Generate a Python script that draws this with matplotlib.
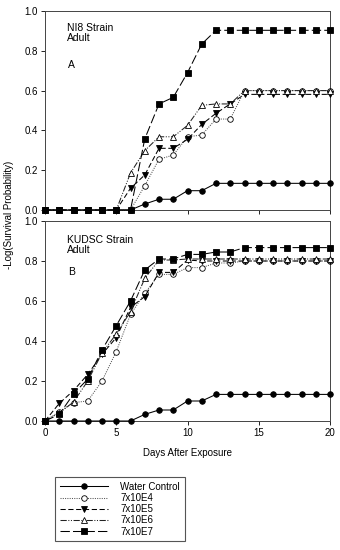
import matplotlib
matplotlib.use("Agg")
import matplotlib.pyplot as plt

plt.rcParams['font.family'] = ['Liberation Sans', 'DejaVu Sans']

days = list(range(21))
labels = ["Water Control", "7x10E4", "7x10E5", "7x10E6", "7x10E7"]

# Panel A: NI8 strain
a_water = [0, 0, 0, 0, 0, 0, 0, 0.03, 0.054, 0.054, 0.097, 0.097, 0.134, 0.134, 0.134, 0.134, 0.134, 0.134, 0.134, 0.134, 0.134]
a_e4 = [0, 0, 0, 0, 0, 0, 0, 0.122, 0.255, 0.276, 0.368, 0.377, 0.457, 0.457, 0.6, 0.6, 0.6, 0.6, 0.6, 0.6, 0.6]
a_e5 = [0, 0, 0, 0, 0, 0, 0.109, 0.176, 0.31, 0.31, 0.355, 0.43, 0.486, 0.533, 0.581, 0.581, 0.581, 0.581, 0.581, 0.581, 0.581]
a_e6 = [0, 0, 0, 0, 0, 0, 0.186, 0.298, 0.368, 0.368, 0.425, 0.526, 0.533, 0.533, 0.6, 0.6, 0.6, 0.6, 0.6, 0.6, 0.6]
a_e7 = [0, 0, 0, 0, 0, 0, 0, 0.357, 0.533, 0.566, 0.69, 0.834, 0.903, 0.903, 0.903, 0.903, 0.903, 0.903, 0.903, 0.903, 0.903]

# Panel B: KUDSC strain
b_water = [0, 0, 0, 0, 0, 0, 0, 0.033, 0.055, 0.055, 0.1, 0.1, 0.133, 0.133, 0.133, 0.133, 0.133, 0.133, 0.133, 0.133, 0.133]
b_e4 = [0, 0.047, 0.092, 0.1, 0.2, 0.347, 0.533, 0.638, 0.733, 0.733, 0.767, 0.767, 0.79, 0.79, 0.8, 0.8, 0.8, 0.8, 0.8, 0.8, 0.8]
b_e5 = [0, 0.088, 0.152, 0.233, 0.333, 0.417, 0.568, 0.622, 0.743, 0.743, 0.805, 0.8, 0.8, 0.8, 0.8, 0.8, 0.8, 0.8, 0.8, 0.8, 0.8]
b_e6 = [0, 0.04, 0.095, 0.2, 0.34, 0.435, 0.547, 0.713, 0.805, 0.805, 0.81, 0.81, 0.81, 0.81, 0.81, 0.81, 0.81, 0.81, 0.81, 0.81, 0.81]
b_e7 = [0, 0.033, 0.135, 0.21, 0.355, 0.477, 0.6, 0.755, 0.81, 0.81, 0.833, 0.833, 0.845, 0.845, 0.867, 0.867, 0.867, 0.867, 0.867, 0.867, 0.867]

styles = [
    dict(marker='o', mfc='black', ls='-', color='black'),
    dict(marker='o', mfc='white', ls=(0, (1, 1.2)), color='#555555'),
    dict(marker='v', mfc='black', ls=(0, (5, 2.5)), color='black'),
    dict(marker='^', mfc='white', ls=(0, (6, 1.5, 1, 1.5, 1, 1.5)), color='#222222'),
    dict(marker='s', mfc='black', ls=(0, (9, 3)), color='black'),
]

W, H = 340, 550
fig = plt.figure(figsize=(W / 100, H / 100), dpi=100)
axA = fig.add_axes([45 / W, 1 - 210 / H, 285 / W, 199 / H])
axB = fig.add_axes([45 / W, 1 - 421 / H, 285 / W, 200 / H])

handles = []
for ax, series in ((axA, [a_water, a_e4, a_e5, a_e6, a_e7]),
                   (axB, [b_water, b_e4, b_e5, b_e6, b_e7])):
    for vals, st, lab in zip(series, styles, labels):
        ln, = ax.plot(days, vals, marker=st['marker'], markerfacecolor=st['mfc'],
                      markeredgecolor='black', markeredgewidth=0.6, markersize=4.0,
                      linestyle=st['ls'], color=st['color'], linewidth=0.75,
                      clip_on=False, label=lab, zorder=3)
        if ax is axA:
            handles.append(ln)
    ax.set_xlim(0, 20)
    ax.set_ylim(0, 1.0)
    ax.set_xticks([0, 5, 10, 15, 20])
    ax.set_yticks([0, 0.2, 0.4, 0.6, 0.8, 1.0])
    ax.set_yticklabels(['0.0', '0.2', '0.4', '0.6', '0.8', '1.0'])
    ax.tick_params(labelsize=7, length=3, width=0.6, direction='out', pad=2)
    for sp in ax.spines.values():
        sp.set_linewidth(0.7)
        sp.set_color('#444444')

axA.set_xticklabels([])
axB.set_xlabel("Days After Exposure", fontsize=7, labelpad=7)

axA.text(1.55, 0.9, "NI8 Strain", fontsize=7.5, va='baseline')
axA.text(1.55, 0.85, "Adult", fontsize=7.5, va='baseline')
axA.text(1.6, 0.714, "A", fontsize=7.5, va='baseline')
axB.text(1.55, 0.888, "KUDSC Strain", fontsize=7.5, va='baseline')
axB.text(1.55, 0.838, "Adult", fontsize=7.5, va='baseline')
axB.text(1.6, 0.73, "B", fontsize=7.5, va='baseline')

fig.text(9 / W, 1 - 215 / H, "-Log(Survival Probability)", rotation=90,
         fontsize=7, ha='center', va='center')

leg = fig.legend(handles=handles, loc='upper left',
                 bbox_to_anchor=(55 / W, 1 - 477 / H), borderaxespad=0,
                 fontsize=7, handlelength=5.0, handletextpad=1.2,
                 labelspacing=0.12, borderpad=0.5, fancybox=False,
                 frameon=True, edgecolor='#555555', framealpha=1)
leg.get_frame().set_linewidth(0.8)

fig.savefig("out.png", dpi=100)
